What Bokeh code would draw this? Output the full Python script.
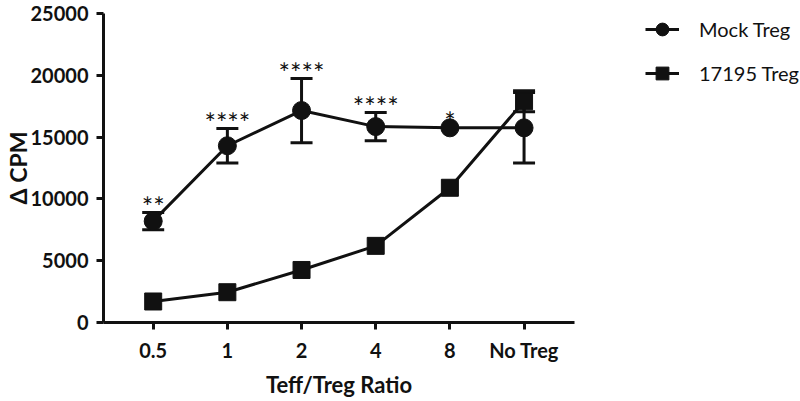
import math
from bokeh.plotting import figure
from bokeh.layouts import row
from bokeh.models import (ColumnDataSource, FixedTicker, Legend, LegendItem,
                          Whisker, TeeHead, Range1d)
from bokeh.core.properties import value
from bokeh.embed import file_html
from bokeh.resources import INLINE

# ---- data ----
categories = ["0.5", "1", "2", "4", "8", "No Treg"]
mock_mean = [8200, 14300, 17150, 15850, 15750, 15750]
mock_err = [700, 1400, 2600, 1150, 0, 2850]
treg17195_mean = [1700, 2450, 4250, 6200, 10900, 17900]
treg17195_err = [0, 0, 0, 0, 0, 850]
significance = ["**", "****", "****", "****", "*", ""]
y_ticks = [0, 5000, 10000, 15000, 20000, 25000]
series_names = ["Mock Treg", "17195 Treg"]

x = list(range(len(categories)))
FONT = "Lato"
BLACK = "#111111"
NAN = float("nan")


def bounds(means, errs, sign):
    return [m + sign * e if e > 0 else NAN for m, e in zip(means, errs)]


mock_src = ColumnDataSource(dict(
    x=x, y=mock_mean,
    upper=bounds(mock_mean, mock_err, 1),
    lower=bounds(mock_mean, mock_err, -1),
    sig_y=[m + e for m, e in zip(mock_mean, mock_err)],
    sig=significance))
t_src = ColumnDataSource(dict(
    x=x, y=treg17195_mean,
    upper=bounds(treg17195_mean, treg17195_err, 1),
    lower=bounds(treg17195_mean, treg17195_err, -1)))

p = figure(width=582, height=401, output_backend="svg", toolbar_location=None,
           x_range=Range1d(-0.67, 5.68), y_range=Range1d(0, 25000),
           min_border_left=100, min_border_right=8, min_border_top=12,
           min_border_bottom=79)
p.outline_line_color = None
p.xgrid.visible = False
p.ygrid.visible = False
p.background_fill_color = "white"

# error bars
for src in (mock_src, t_src):
    w = Whisker(source=src, base="x", upper="upper", lower="lower",
                line_color=BLACK, line_width=3,
                upper_head=TeeHead(size=22, line_width=3, line_color=BLACK),
                lower_head=TeeHead(size=22, line_width=3, line_color=BLACK))
    p.add_layout(w)

p.line("x", "y", source=mock_src, line_color=BLACK, line_width=3)
p.scatter("x", "y", source=mock_src, marker="circle", size=18,
          fill_color=BLACK, line_color=BLACK)
p.line("x", "y", source=t_src, line_color=BLACK, line_width=3)
p.scatter("x", "y", source=t_src, marker="square", size=17,
          fill_color=BLACK, line_color=BLACK)

p.text("x", "sig_y", text="sig", source=mock_src, text_align="center",
       text_baseline="middle", y_offset=-6, text_font=value(FONT),
       text_font_size="27px", text_color=BLACK)

# axes
for ax in (p.xaxis[0], p.yaxis[0]):
    ax.axis_line_width = 3
    ax.axis_line_color = BLACK
    ax.major_tick_line_width = 3
    ax.major_tick_line_color = BLACK
    ax.major_tick_out = 7
    ax.major_tick_in = 0
    ax.minor_tick_line_color = None
    ax.major_label_text_font = FONT
    ax.major_label_text_font_style = "bold"
    ax.major_label_text_font_size = "20px"
    ax.major_label_text_color = BLACK
    ax.axis_label_text_font = FONT
    ax.axis_label_text_font_style = "bold"
    ax.axis_label_text_color = BLACK

p.xaxis.ticker = FixedTicker(ticks=x)
p.xaxis.major_label_overrides = {i: c for i, c in enumerate(categories)}
p.xaxis.major_label_standoff = 8
p.xaxis.axis_label = "Teff/Treg Ratio"
p.xaxis.axis_label_text_font_size = "22px"
p.xaxis.axis_label_standoff = 6

p.yaxis.ticker = FixedTicker(ticks=y_ticks)
p.yaxis.major_label_standoff = 8
p.yaxis.axis_label = "Δ CPM"
p.yaxis.axis_label_text_font_size = "23px"
p.yaxis.axis_label_standoff = -4

# ---- legend panel (separate figure to the right) ----
# legend renderers reuse the series data but lie outside this panel's ranges
lg = figure(width=218, height=401, output_backend="svg", toolbar_location=None,
            x_range=Range1d(100, 101), y_range=Range1d(100000, 100001),
            x_axis_type=None, y_axis_type=None,
            min_border_left=63, min_border_right=0, min_border_top=13,
            min_border_bottom=0)
lg.outline_line_color = None
lg.xgrid.visible = False
lg.ygrid.visible = False
r_l1 = lg.line("x", "y", source=mock_src, line_color=BLACK, line_width=3)
r_s1 = lg.scatter("x", "y", source=mock_src, marker="circle", size=18,
                  fill_color=BLACK, line_color=BLACK)
r_l2 = lg.line("x", "y", source=t_src, line_color=BLACK, line_width=3)
r_s2 = lg.scatter("x", "y", source=t_src, marker="square", size=17,
                  fill_color=BLACK, line_color=BLACK)

legend = Legend(items=[LegendItem(label=series_names[0], renderers=[r_l1, r_s1]),
                       LegendItem(label=series_names[1], renderers=[r_l2, r_s2])],
                location="top_left", border_line_alpha=0,
                background_fill_alpha=0, padding=0, margin=0,
                glyph_width=34, glyph_height=32, label_height=22,
                spacing=12, label_standoff=20,
                label_text_font=FONT, label_text_font_size="20px",
                label_text_color=BLACK)
lg.add_layout(legend, "center")

layout = row(p, lg, spacing=0)
open("out.html", "w").write(file_html(layout, INLINE))
